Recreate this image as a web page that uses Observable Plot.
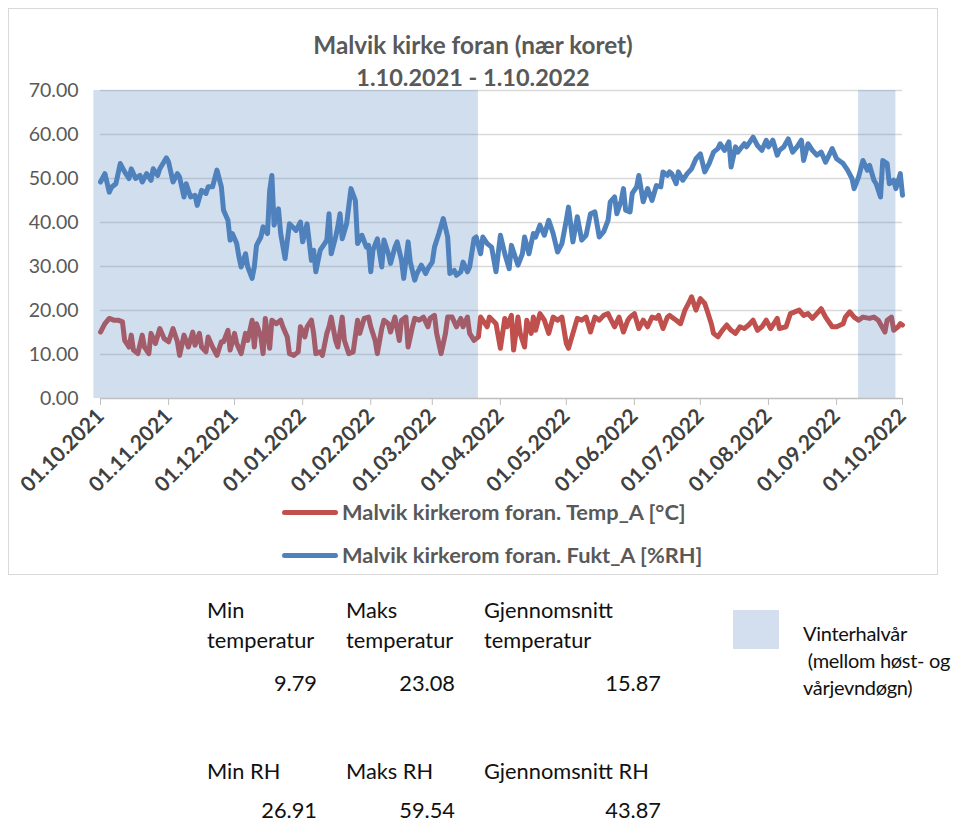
<!DOCTYPE html>
<html><head><meta charset="utf-8">
<script src="https://cdn.jsdelivr.net/npm/d3@7"></script>
<script src="https://cdn.jsdelivr.net/npm/@observablehq/plot@0.6"></script>
<style>
html,body{margin:0;padding:0;background:#fff;overflow:hidden;}
#page{position:relative;width:953px;height:823px;overflow:hidden;font-family:Lato,"Open Sans",sans-serif;}
#frame{position:absolute;left:8px;top:8px;width:928px;height:565px;border:1px solid #d9d9d9;}
#chart{position:absolute;left:0;top:0;}
.t{position:absolute;white-space:nowrap;}
.title{left:8px;width:930px;text-align:center;font-weight:bold;font-size:23.5px;line-height:32px;color:#595959;}
.legline{position:absolute;height:5px;border-radius:3px;}
.legtext{font-weight:bold;font-size:21.8px;line-height:26px;color:#595959;}
.cell{font-size:21.8px;line-height:30px;color:#111;}
.num{text-align:right;}
</style>
</head><body>
<div id="page">
  <div id="frame"></div>
  <div id="chart"></div>
  <div class="t title" style="top:29px;font-size:24.3px" id="title1"></div>
  <div class="t title" style="top:61px" id="title2"></div>
  <div id="legend"></div>
  <div id="stats"></div>
  <div id="winter"></div>
</div>
<script>
// ---------- data ----------
const titleLines = ["Malvik kirke foran (nær koret)", "1.10.2021 - 1.10.2022"];
const seriesNames = ["Malvik kirkerom foran. Temp_A [°C]", "Malvik kirkerom foran. Fukt_A [%RH]"];
const seriesColors = ["#c0504d", "#4f81bd"];

const monthTicks = ["2021-10-01","2021-11-01","2021-12-01","2022-01-01","2022-02-01","2022-03-01","2022-04-01","2022-05-01","2022-06-01","2022-07-01","2022-08-01","2022-09-01","2022-10-01"];
const yTicks = [0,10,20,30,40,50,60,70];

const winterStart = ["2021-09-28","2022-09-11"];
const winterEnd   = ["2022-03-22","2022-09-28"];

const rhDates = ["2021-10-01","2021-10-03","2021-10-05","2021-10-06","2021-10-08","2021-10-10","2021-10-12","2021-10-14","2021-10-15","2021-10-17","2021-10-19","2021-10-20","2021-10-22","2021-10-24","2021-10-25","2021-10-27","2021-10-28","2021-10-31",
"2021-11-01","2021-11-03","2021-11-05","2021-11-06","2021-11-08","2021-11-09","2021-11-11","2021-11-13","2021-11-14","2021-11-16","2021-11-18","2021-11-19","2021-11-21","2021-11-23","2021-11-25","2021-11-26","2021-11-28","2021-11-29","2021-11-30",
"2021-12-02","2021-12-03","2021-12-04","2021-12-06","2021-12-07","2021-12-09","2021-12-10","2021-12-11","2021-12-13","2021-12-14","2021-12-16","2021-12-17","2021-12-18","2021-12-19","2021-12-21","2021-12-22","2021-12-24","2021-12-26","2021-12-29","2021-12-31",
"2022-01-01","2022-01-03","2022-01-05","2022-01-06","2022-01-07","2022-01-09","2022-01-11","2022-01-12","2022-01-13","2022-01-14","2022-01-16","2022-01-17","2022-01-18","2022-01-19","2022-01-21","2022-01-23","2022-01-25","2022-01-26","2022-01-28","2022-01-30","2022-01-31",
"2022-02-01","2022-02-02","2022-02-04","2022-02-06","2022-02-07","2022-02-09","2022-02-10","2022-02-12","2022-02-13","2022-02-15","2022-02-16","2022-02-18","2022-02-19","2022-02-21","2022-02-22","2022-02-24","2022-02-26","2022-02-27",
"2022-03-01","2022-03-02","2022-03-04","2022-03-06","2022-03-08","2022-03-09","2022-03-11","2022-03-12","2022-03-14","2022-03-15","2022-03-17","2022-03-18","2022-03-20","2022-03-21","2022-03-23","2022-03-24","2022-03-26","2022-03-28","2022-03-30",
"2022-04-01","2022-04-03","2022-04-05","2022-04-06","2022-04-09","2022-04-11","2022-04-12","2022-04-14","2022-04-16","2022-04-17","2022-04-19","2022-04-21","2022-04-23","2022-04-25","2022-04-27","2022-04-29",
"2022-05-01","2022-05-02","2022-05-04","2022-05-06","2022-05-08","2022-05-10","2022-05-12","2022-05-14","2022-05-16","2022-05-18","2022-05-20","2022-05-21","2022-05-23","2022-05-24","2022-05-26","2022-05-27","2022-05-28","2022-05-30","2022-05-31",
"2022-06-02","2022-06-03","2022-06-05","2022-06-07","2022-06-09","2022-06-11","2022-06-13","2022-06-14","2022-06-16","2022-06-17","2022-06-18","2022-06-20","2022-06-21","2022-06-23","2022-06-25","2022-06-27","2022-06-29",
"2022-07-01","2022-07-03","2022-07-05","2022-07-07","2022-07-09","2022-07-10","2022-07-12","2022-07-14","2022-07-15","2022-07-17","2022-07-18","2022-07-21","2022-07-22","2022-07-25","2022-07-27","2022-07-29","2022-07-31",
"2022-08-01","2022-08-03","2022-08-05","2022-08-06","2022-08-08","2022-08-10","2022-08-12","2022-08-14","2022-08-16","2022-08-17","2022-08-19","2022-08-21","2022-08-23","2022-08-25","2022-08-27","2022-08-30",
"2022-09-01","2022-09-04","2022-09-06","2022-09-08","2022-09-09","2022-09-11","2022-09-13","2022-09-15","2022-09-16","2022-09-18","2022-09-19","2022-09-21","2022-09-22","2022-09-24","2022-09-25","2022-09-27","2022-09-28","2022-09-30","2022-10-01"];
const rhValues = [49.2,51.1,46.9,48.0,48.8,53.4,51.5,50.0,52.2,50.0,50.7,49.2,51.1,49.6,52.2,50.7,52.2,54.7,
53.7,49.2,51.1,50.3,45.8,48.8,45.8,46.2,43.9,47.3,46.6,48.1,48.1,51.9,48.1,42.8,40.5,36.0,37.5,
35.2,32.2,29.9,32.9,29.9,27.3,29.9,34.8,36.7,39.0,37.5,47.3,50.7,39.4,43.1,37.5,31.8,39.7,38.2,40.1,
35.6,39.7,31.4,33.7,28.8,33.7,35.2,36.0,42.0,32.9,36.7,39.0,42.0,36.3,39.7,47.7,45.0,35.2,37.1,34.4,34.8,
28.8,33.7,36.3,29.9,36.0,32.9,30.7,34.4,35.6,31.4,27.3,35.6,31.0,26.9,28.4,30.3,28.4,29.5,
31.0,34.4,37.5,40.9,36.7,28.4,29.1,28.0,28.8,31.0,28.8,29.9,36.3,36.7,32.9,36.7,35.2,34.4,28.8,
37.1,32.9,29.5,34.8,30.3,32.9,36.7,32.9,37.5,36.7,39.4,37.1,40.5,37.5,33.3,35.2,
40.5,43.5,35.6,41.3,36.0,37.1,42.0,42.4,36.7,37.9,40.5,44.7,45.8,42.0,45.0,47.7,42.8,42.4,46.6,
48.1,50.7,44.7,47.7,45.0,48.4,48.1,51.5,50.7,51.5,51.1,48.8,51.5,49.6,51.1,52.2,54.5,
55.6,51.5,53.4,56.0,56.8,57.9,56.4,58.3,52.6,57.2,56.0,57.9,57.2,59.4,57.5,56.4,58.7,
57.2,58.7,55.3,56.4,57.2,59.0,56.0,57.2,58.7,54.1,57.9,56.4,55.3,56.0,53.7,56.8,
54.5,53.4,51.9,50.0,47.7,50.3,54.1,51.9,53.0,49.6,48.8,45.8,54.1,53.4,48.8,49.6,47.7,51.1,46.2];

const tempDates = ["2021-10-01","2021-10-03","2021-10-05","2021-10-07","2021-10-09","2021-10-11","2021-10-12","2021-10-14","2021-10-15","2021-10-16","2021-10-18","2021-10-20","2021-10-21","2021-10-23","2021-10-24","2021-10-26","2021-10-28","2021-10-30",
"2021-11-01","2021-11-03","2021-11-05","2021-11-06","2021-11-08","2021-11-10","2021-11-12","2021-11-13","2021-11-15","2021-11-16","2021-11-18","2021-11-19","2021-11-21","2021-11-23","2021-11-25","2021-11-26","2021-11-28","2021-11-29",
"2021-12-01","2021-12-02","2021-12-04","2021-12-06","2021-12-07","2021-12-09","2021-12-10","2021-12-11","2021-12-13","2021-12-14","2021-12-15","2021-12-17","2021-12-18","2021-12-20","2021-12-22","2021-12-23","2021-12-25","2021-12-26","2021-12-28","2021-12-30","2021-12-31",
"2022-01-02","2022-01-03","2022-01-05","2022-01-06","2022-01-07","2022-01-09","2022-01-10","2022-01-12","2022-01-13","2022-01-14","2022-01-16","2022-01-17","2022-01-19","2022-01-20","2022-01-22","2022-01-24","2022-01-26","2022-01-27","2022-01-29","2022-01-31",
"2022-02-01","2022-02-03","2022-02-04","2022-02-06","2022-02-07","2022-02-09","2022-02-10","2022-02-12","2022-02-14","2022-02-15","2022-02-17","2022-02-18","2022-02-20","2022-02-21","2022-02-23","2022-02-25","2022-02-27","2022-02-28",
"2022-03-02","2022-03-03","2022-03-05","2022-03-07","2022-03-08","2022-03-10","2022-03-12","2022-03-14","2022-03-15","2022-03-17","2022-03-18","2022-03-20","2022-03-22","2022-03-23","2022-03-26","2022-03-27","2022-03-30",
"2022-04-01","2022-04-03","2022-04-04","2022-04-06","2022-04-07","2022-04-09","2022-04-10","2022-04-12","2022-04-13","2022-04-15","2022-04-16","2022-04-17","2022-04-19","2022-04-21","2022-04-23","2022-04-25","2022-04-27","2022-04-29",
"2022-05-01","2022-05-02","2022-05-04","2022-05-06","2022-05-08","2022-05-10","2022-05-12","2022-05-14","2022-05-16","2022-05-18","2022-05-20","2022-05-21","2022-05-23","2022-05-25","2022-05-27","2022-05-29","2022-05-30",
"2022-06-01","2022-06-03","2022-06-05","2022-06-07","2022-06-09","2022-06-11","2022-06-12","2022-06-14","2022-06-16","2022-06-17","2022-06-18","2022-06-20","2022-06-22","2022-06-24","2022-06-26","2022-06-27","2022-06-29",
"2022-07-01","2022-07-03","2022-07-04","2022-07-06","2022-07-07","2022-07-09","2022-07-11","2022-07-13","2022-07-15","2022-07-17","2022-07-19","2022-07-21","2022-07-23","2022-07-25","2022-07-27","2022-07-29","2022-07-31",
"2022-08-02","2022-08-05","2022-08-06","2022-08-09","2022-08-11","2022-08-13","2022-08-15","2022-08-17","2022-08-19","2022-08-21","2022-08-23","2022-08-25","2022-08-27","2022-08-30",
"2022-09-01","2022-09-04","2022-09-05","2022-09-07","2022-09-09","2022-09-11","2022-09-13","2022-09-16","2022-09-18","2022-09-20","2022-09-23","2022-09-24","2022-09-26","2022-09-27","2022-09-29","2022-09-30","2022-10-01"];
const tempValues = [15.1,17.0,18.2,17.8,17.8,17.4,13.2,11.7,14.4,11.0,10.2,14.4,11.7,10.2,14.8,12.5,15.9,13.6,
12.9,15.9,12.9,9.8,14.4,11.7,15.1,12.1,14.8,11.7,10.6,14.0,11.7,9.8,12.9,12.9,15.5,11.0,
14.8,12.5,10.2,14.8,13.2,17.8,11.7,17.0,14.0,10.2,18.2,11.4,17.8,17.0,17.8,16.3,14.0,10.2,9.8,10.6,16.3,
14.0,16.3,17.8,14.8,10.2,10.6,9.8,14.8,16.3,18.5,13.2,11.7,18.5,13.2,10.2,10.6,17.8,14.8,18.2,18.5,
16.3,13.2,10.2,15.9,17.8,17.0,15.1,18.5,13.2,17.8,18.5,11.7,16.3,18.2,17.8,18.5,16.3,18.2,
18.9,14.8,10.2,14.8,18.5,18.5,16.3,18.2,16.3,18.5,14.8,13.2,14.0,18.5,16.3,18.5,17.0,
11.4,18.2,16.3,18.9,11.0,18.5,14.8,11.7,17.8,14.8,18.5,15.5,19.3,17.8,14.8,18.5,17.8,18.5,
12.5,11.4,14.8,18.2,17.8,18.5,15.1,18.5,17.8,18.9,19.3,18.2,16.3,18.5,15.1,17.8,18.5,
19.3,15.9,17.8,16.3,18.5,18.2,18.9,15.9,18.5,18.9,18.5,17.8,17.0,20.1,22.0,23.1,20.1,
22.7,21.6,20.1,17.0,14.8,14.0,15.5,16.7,15.5,14.8,16.3,15.9,16.7,17.8,15.5,16.3,17.8,
15.9,18.2,15.9,16.3,19.3,19.7,20.1,18.9,19.3,18.2,19.3,20.4,18.5,16.3,
16.3,17.0,18.5,19.7,18.5,17.8,18.5,18.2,18.5,17.8,15.1,17.8,18.5,15.5,16.3,17.0,16.7];

const statHeadTemp = [["Min","temperatur"],["Maks","temperatur"],["Gjennomsnitt","temperatur"]];
const statTemp = [9.79, 23.08, 15.87];
const statHeadRH = ["Min RH","Maks RH","Gjennomsnitt RH"];
const statRH = [26.91, 59.54, 43.87];
const winterLabel = ["Vinterhalvår", "\u00a0(mellom høst- og", "vårjevndøgn)"];

// ---------- build ----------
const parse = d3.utcParse("%Y-%m-%d");
const rh = rhDates.map((d, i) => ({date: parse(d), value: rhValues[i]}));
const temp = tempDates.map((d, i) => ({date: parse(d), value: tempValues[i]}));
const bands = winterStart.map((d, i) => ({start: parse(d), end: parse(winterEnd[i])}));
const ticks = monthTicks.map(parse);
const FONT = 'Lato,"Open Sans",sans-serif';

const chart = Plot.plot({
  width: 953, height: 505,
  marginLeft: 100, marginRight: 51, marginTop: 90, marginBottom: 107,
  style: {fontFamily: FONT, background: "transparent", overflow: "visible"},
  x: {type: "utc", domain: [ticks[0], ticks[ticks.length - 1]]},
  y: {domain: [0, 70]},
  marks: [
    Plot.ruleY(yTicks.filter(v => v > 0), {stroke: "#d9d9d9", strokeWidth: 1.5}),
    Plot.lineY(temp, {x: "date", y: "value", stroke: seriesColors[0], strokeWidth: 5, strokeLinejoin: "round", strokeLinecap: "round"}),
    Plot.rect(bands, {x1: "start", x2: "end", y1: 0, y2: 70, fill: "#4f81bd", fillOpacity: 0.26}),
    Plot.lineY(rh, {x: "date", y: "value", stroke: seriesColors[1], strokeWidth: 5, strokeLinejoin: "round", strokeLinecap: "round"}),
    Plot.ruleY([0], {stroke: "#bfbfbf", strokeWidth: 1.5}),
    Plot.axisY({ticks: yTicks, tickFormat: d3.format(".2f"), tickSize: 0, tickPadding: 22, fill: "#595959", fontSize: 19.5, label: null}),
    Plot.axisX({ticks: ticks, tickFormat: d3.utcFormat("%d.%m.%Y"), tickRotate: -45, tickSize: 7, tickPadding: 7, stroke: "#bfbfbf", fill: "#404040", fontWeight: "bold", fontSize: 21, label: null})
  ]
});
document.getElementById("chart").appendChild(chart);

document.getElementById("title1").textContent = titleLines[0];
document.getElementById("title2").textContent = titleLines[1];

// legend
const legend = document.getElementById("legend");
const legY = [512, 555];
seriesNames.forEach((name, i) => {
  const l = document.createElement("div");
  l.className = "legline";
  l.style.cssText = `left:282px;top:${legY[i] - 2.5}px;width:56px;background:${seriesColors[i]};`;
  legend.appendChild(l);
  const t = document.createElement("div");
  t.className = "t legtext";
  t.style.cssText = `left:342px;top:${legY[i] - 13}px;`;
  t.textContent = name;
  legend.appendChild(t);
});

// stats table
const stats = document.getElementById("stats");
const colLeft = [207, 346, 484];
const colRight = [317, 455, 661];
function addCell(html, left, top, width, right) {
  const d = document.createElement("div");
  d.className = "t cell" + (right ? " num" : "");
  d.style.left = left + "px"; d.style.top = top + "px";
  if (width) d.style.width = width + "px";
  d.innerHTML = html;
  stats.appendChild(d);
}
const fmt = d3.format(".2f");
statHeadTemp.forEach((h, i) => addCell(h.join("<br>"), colLeft[i], 595, null, false));
statTemp.forEach((v, i) => addCell(fmt(v), colLeft[i], 668, colRight[i] - colLeft[i], true));
statHeadRH.forEach((h, i) => addCell(h, colLeft[i], 756, null, false));
statRH.forEach((v, i) => addCell(fmt(v), colLeft[i], 795, colRight[i] - colLeft[i], true));

// winter legend
const w = document.getElementById("winter");
const sw = document.createElement("div");
sw.style.cssText = "position:absolute;left:733px;top:610px;width:46px;height:39px;background:#d3dfee;";
w.appendChild(sw);
const wt = document.createElement("div");
wt.className = "t cell";
wt.style.cssText = "left:803px;top:620px;line-height:27px;font-size:20px;letter-spacing:-0.3px;";
wt.innerHTML = winterLabel.join("<br>");
w.appendChild(wt);
</script>
</body></html>
